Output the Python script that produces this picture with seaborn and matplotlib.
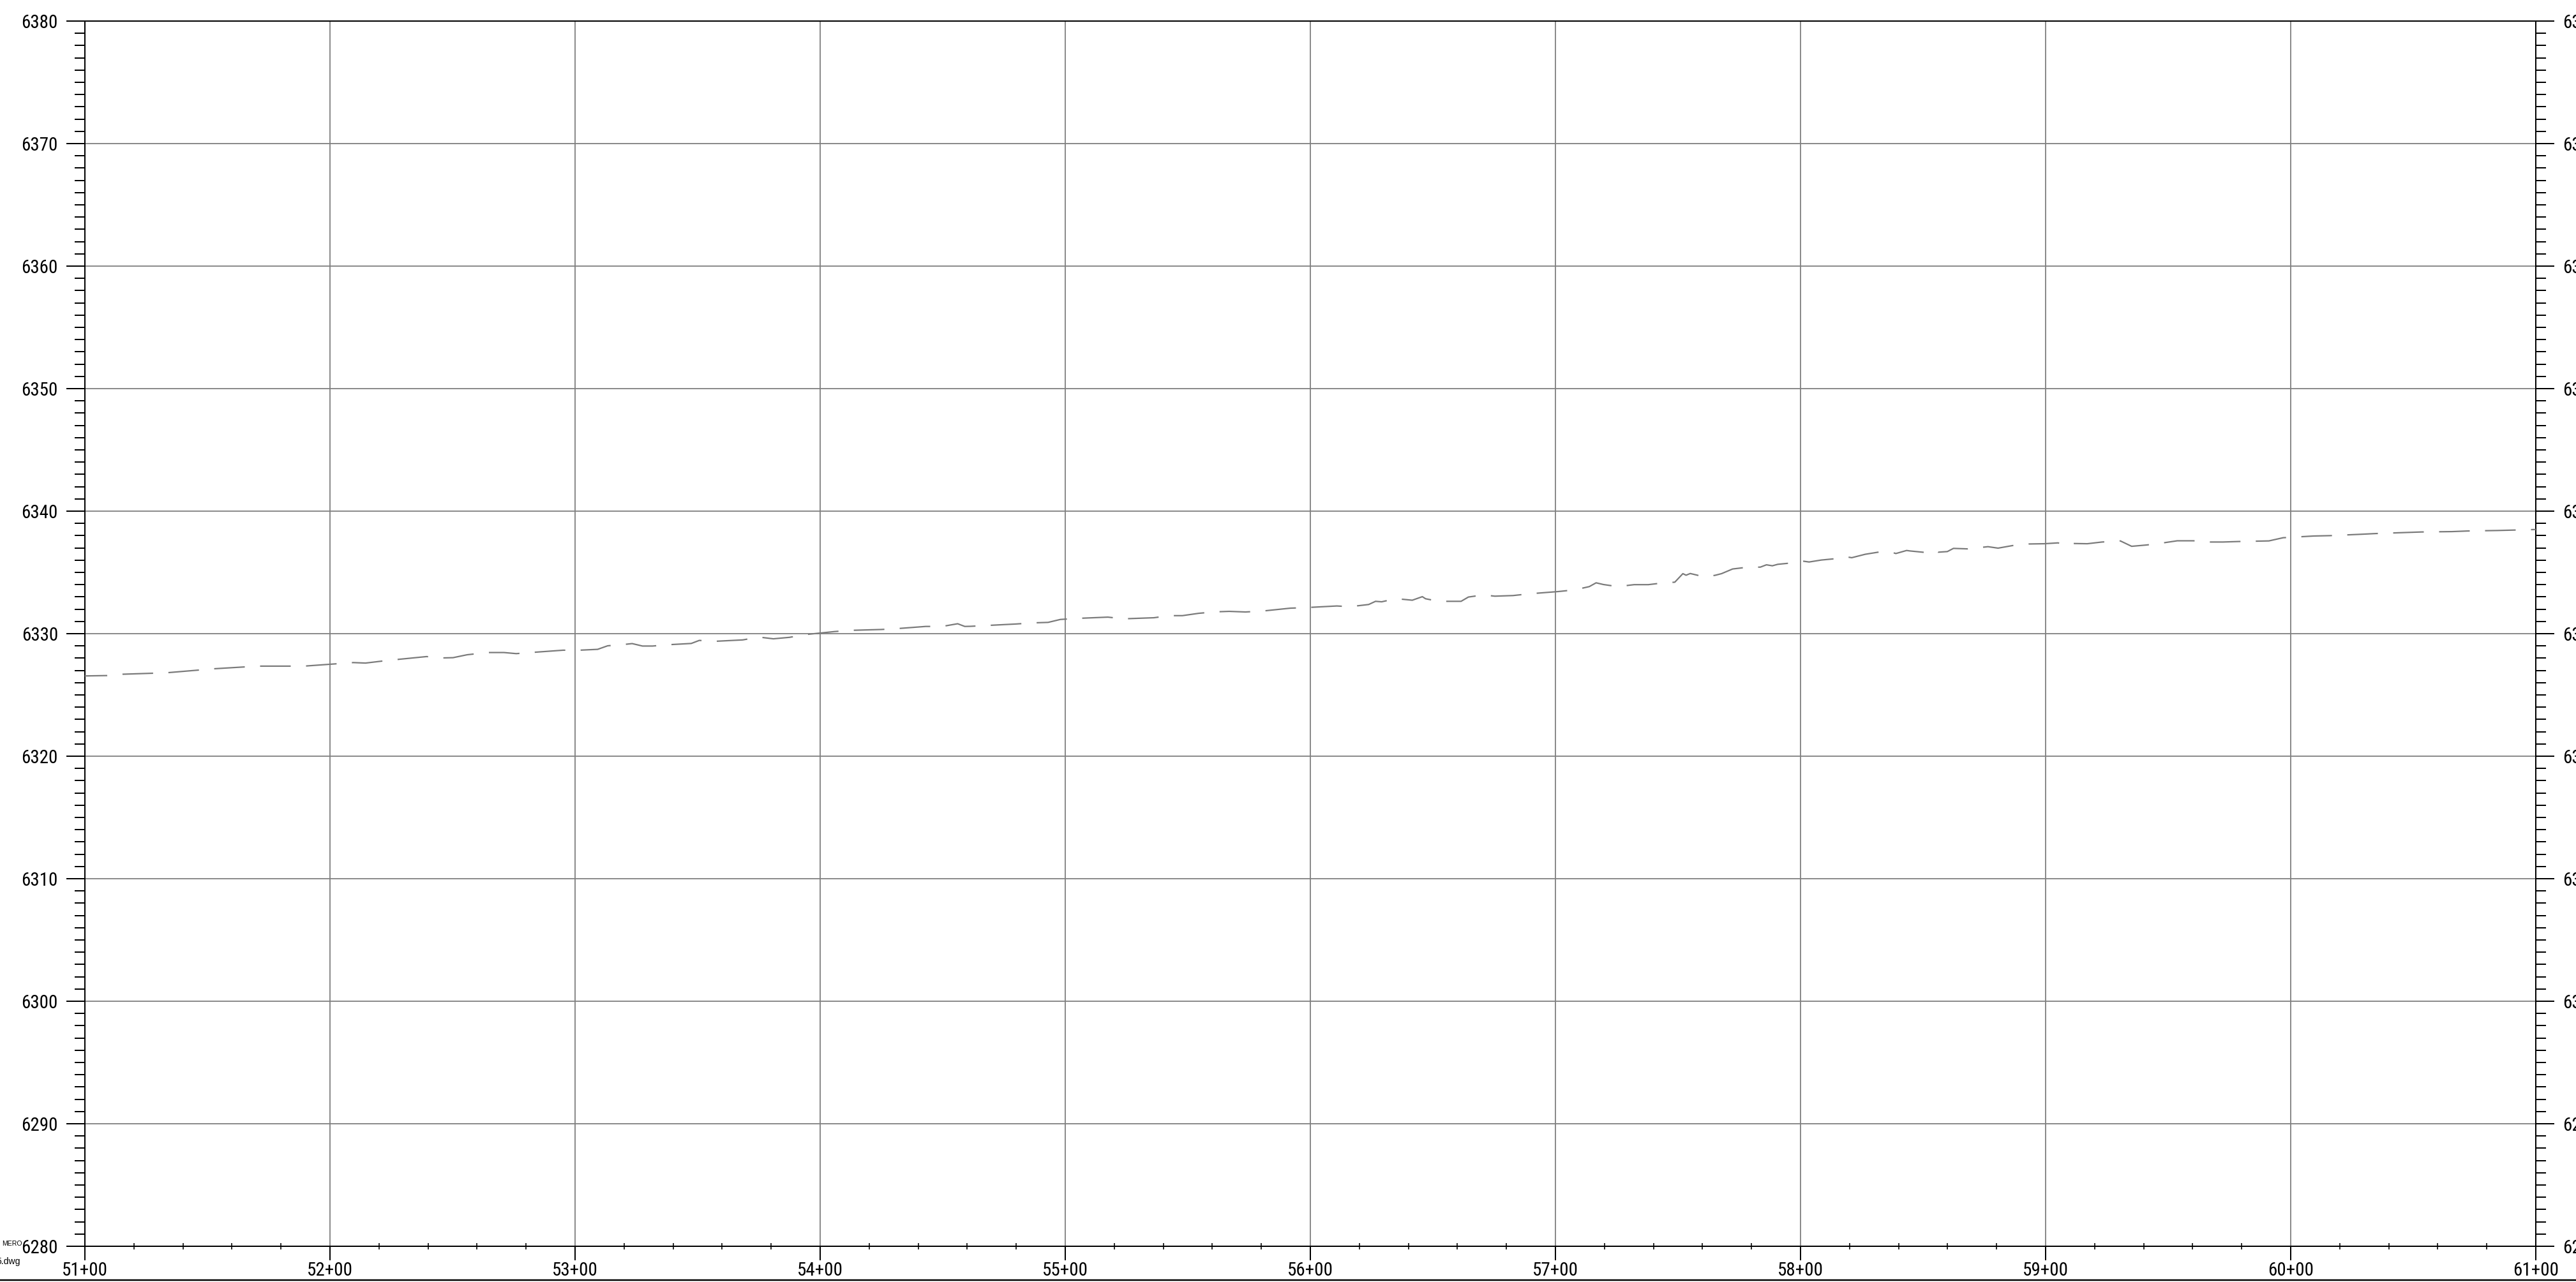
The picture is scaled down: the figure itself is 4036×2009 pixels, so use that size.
import matplotlib
matplotlib.use("Agg")
import matplotlib.pyplot as plt
from matplotlib.ticker import MultipleLocator, FuncFormatter
from matplotlib.lines import Line2D
from matplotlib import font_manager
from matplotlib.font_manager import FontProperties
import pandas as pd
import seaborn as sns

# Existing ground profile: station (ft) and elevation (ft)
station = [
    5100.0, 5109.1, 5115.4, 5127.7, 5134.0, 5146.4, 5153.1, 5164.7, 5171.3, 5183.8,
    5190.1, 5199.9, 5209.5, 5214.5, 5221.2, 5227.8, 5239.4, 5246.1, 5250.2, 5256.0,
    5264.3, 5271.0, 5276.0, 5282.6, 5295.1, 5301.7, 5309.2, 5313.3, 5320.0, 5323.3,
    5327.5, 5331.6, 5338.3, 5347.4, 5350.7,
    5356.5, 5368.4, 5375.1, 5380.9, 5387.5, 5394.2, 5405.8, 5412.4, 5424.9, 5431.2,
    5443.1, 5449.8, 5456.1, 5459.0, 5461.4, 5468.1, 5480.0, 5486.7, 5493.0, 5498.0,
    5505.4, 5517.4, 5523.7, 5536.2, 5542.5, 5547.8, 5554.4, 5561.1, 5566.9, 5573.5,
    5580.2, 5591.8, 5598.4,
    5610.8, 5617.1, 5619.1, 5623.8, 5626.6, 5629.1, 5634.9, 5641.6, 5645.7, 5647.0,
    5652.3, 5661.5, 5664.5, 5670.6, 5675.3, 5682.7, 5689.2, 5701.3, 5708.0, 5713.8,
    5716.6, 5719.6, 5725.4, 5732.1, 5737.9, 5744.2, 5748.7, 5752.0, 5753.3, 5755.0,
    5761.1, 5765.3, 5767.8, 5772.3, 5778.6, 5783.6, 5786.1, 5788.5, 5790.7, 5796.8,
    5801.0, 5803.5, 5808.5, 5814.8, 5818.4, 5820.9, 5826.4, 5832.6, 5836.7, 5838.9,
    5843.3, 5844.7,
    5850.8, 5854.6, 5856.2, 5859.9, 5862.4, 5868.2, 5876.5, 5880.6, 5886.5, 5893.1,
    5899.4, 5905.1, 5908.4, 5911.0, 5917.0, 5923.0, 5930.5, 5935.1, 5941.3, 5946.3,
    5953.7, 5960.4, 5964.5, 5972.3, 5978.6, 5991.1, 5996.9, 6009.4, 6016.0, 6028.5,
    6034.6, 6047.2, 6053.4, 6065.8, 6072.1, 6084.4, 6090.7, 6100.0,
]
elevation = [
    6326.55, 6326.58, 6326.69, 6326.77, 6326.82, 6327.03, 6327.14, 6327.28, 6327.35, 6327.35,
    6327.36, 6327.50, 6327.64, 6327.60, 6327.76, 6327.90, 6328.13, 6328.02, 6328.04, 6328.28,
    6328.46, 6328.46, 6328.37, 6328.47, 6328.65, 6328.65, 6328.72, 6329.01, 6329.12, 6329.19,
    6328.99, 6328.99, 6329.10, 6329.20, 6329.45,
    6329.37, 6329.49, 6329.72, 6329.58, 6329.70, 6329.93, 6330.17, 6330.27, 6330.34, 6330.41,
    6330.59, 6330.59, 6330.81, 6330.59, 6330.60, 6330.67, 6330.79, 6330.88, 6330.92, 6331.16,
    6331.25, 6331.35, 6331.21, 6331.30, 6331.47, 6331.47, 6331.66, 6331.78, 6331.82, 6331.77,
    6331.84, 6332.08, 6332.13,
    6332.26, 6332.19, 6332.27, 6332.38, 6332.64, 6332.60, 6332.86, 6332.73, 6333.02, 6332.85,
    6332.64, 6332.64, 6332.99, 6333.16, 6333.06, 6333.11, 6333.25, 6333.44, 6333.58, 6333.84,
    6334.15, 6334.01, 6333.84, 6334.00, 6334.00, 6334.15, 6334.20, 6334.90, 6334.77, 6334.91,
    6334.62, 6334.77, 6334.90, 6335.28, 6335.43, 6335.43, 6335.62, 6335.54, 6335.66, 6335.78,
    6335.92, 6335.85, 6336.01, 6336.13, 6336.28, 6336.20, 6336.48, 6336.68, 6336.68, 6336.54,
    6336.79, 6336.75,
    6336.63, 6336.84, 6336.65, 6336.70, 6336.96, 6336.92, 6337.10, 6336.98, 6337.19, 6337.32,
    6337.34, 6337.41, 6337.19, 6337.36, 6337.34, 6337.48, 6337.57, 6337.13, 6337.24, 6337.36,
    6337.58, 6337.58, 6337.48, 6337.48, 6337.52, 6337.57, 6337.83, 6337.97, 6338.00, 6338.11,
    6338.17, 6338.26, 6338.30, 6338.33, 6338.38, 6338.42, 6338.45, 6338.50,
]

station_range = (5100, 6100)
elevation_range = (6280, 6380)
sheet_notes = ["MERO", "5.dwg"]

W, H, DPI = 4037, 2009, 100
PX = 72.0 / DPI  # points per pixel

sns.set_theme(style="white")
plt.rcParams["font.family"] = ["Liberation Sans", "DejaVu Sans"]
plt.rcParams["lines.scale_dashes"] = False


def pick_narrow_font():
    """Find a regular-weight narrow/condensed sans face for the drafting labels."""
    prefs = ["Liberation Sans Narrow", "Arial Narrow", "Noto Sans Condensed",
             "Roboto Condensed", "Open Sans Condensed", "DejaVu Sans Condensed",
             "Noto Sans Display Condensed"]
    cands = []
    for f in font_manager.fontManager.ttflist:
        narrow = ("Narrow" in f.name or "Condensed" in f.name
                  or f.stretch in ("condensed", "semi-condensed", 500 - 125, 300, 400))
        if "Narrow" in f.fname or "Condensed" in f.fname:
            narrow = True
        if not narrow:
            continue
        if f.style != "normal":
            continue
        w = f.weight if isinstance(f.weight, int) else {"normal": 400, "regular": 400}.get(f.weight, 700)
        if w != 400:
            continue
        fn = f.fname.split("/")[-1]
        if any(k in fn for k in ("Bold", "Italic", "Light", "Thin", "Black", "Medium", "Semi", "Extra")):
            if "SemiCondensed" not in fn:
                continue
        rank = next((i for i, p in enumerate(prefs) if p.replace(" ", "") in fn.replace("-", "").replace(" ", "")
                     or p == f.name), len(prefs))
        cands.append((rank, fn, f.fname))
    if cands:
        cands.sort()
        return FontProperties(fname=cands[0][2])
    return FontProperties(family=["Liberation Sans", "DejaVu Sans"])


label_font = pick_narrow_font()

fig = plt.figure(figsize=(W / DPI, H / DPI), dpi=DPI, facecolor="white")
ax = fig.add_axes([133 / W, 56 / H, 3840 / W, 1920 / H])
ax.set_facecolor("white")

profile = pd.DataFrame({"station": station, "elevation": elevation})
sns.lineplot(data=profile, x="station", y="elevation", ax=ax, sort=False, estimator=None,
             color="#7a7a7a", linewidth=2.2 * PX,
             linestyle=(13 * PX, (48 * PX, 24 * PX)), zorder=3)

ax.set_xlim(*station_range)
ax.set_ylim(*elevation_range)
ax.set_xlabel("")
ax.set_ylabel("")

ax.xaxis.set_major_locator(MultipleLocator(100))
ax.xaxis.set_minor_locator(MultipleLocator(20))
ax.yaxis.set_major_locator(MultipleLocator(10))
ax.yaxis.set_minor_locator(MultipleLocator(1))
ax.xaxis.set_major_formatter(FuncFormatter(lambda v, p: f"{int(round(v)) // 100}+{int(round(v)) % 100:02d}"))
ax.yaxis.set_major_formatter(FuncFormatter(lambda v, p: f"{int(round(v))}"))

ax.grid(which="major", color="#7f7f7f", linewidth=1.8 * PX, zorder=1)
ax.grid(which="minor", visible=False)
ax.set_axisbelow(True)

for s in ax.spines.values():
    s.set_visible(True)
    s.set_color("black")
    s.set_linewidth(2.0 * PX)

fs = 29 * PX
label_font.set_size(fs)
ax.tick_params(axis="y", which="major", left=True, right=True, labelleft=True, labelright=True,
               direction="out", length=29 * PX, width=2.0 * PX, pad=13 * PX,
               labelsize=fs, colors="black")
ax.tick_params(axis="y", which="minor", left=True, right=True,
               direction="out", length=16 * PX, width=2.0 * PX, colors="black")
ax.tick_params(axis="x", which="major", bottom=True, top=False, direction="out",
               length=22 * PX, width=2.0 * PX, pad=2 * PX, labelsize=fs, colors="black")
ax.tick_params(axis="x", which="minor", bottom=True, top=False, direction="inout",
               length=10 * PX, width=1.6 * PX, colors="black")

for lab in ax.get_xticklabels() + ax.get_yticklabels():
    lab.set_fontproperties(label_font)
for tick in ax.yaxis.get_major_ticks():
    tick.label2.set_fontproperties(label_font)

# sheet border along the bottom edge
fig.add_artist(Line2D([0, 1], [3 / H, 3 / H], transform=fig.transFigure,
                      color="black", linewidth=2.5 * PX))

# file reference notes at the lower-left corner
fig.text(35 / W, (H - 1952) / H, sheet_notes[0], ha="right", va="baseline",
         fontsize=10.5 * PX, color="black")
fig.text(32 / W, (H - 1981) / H, sheet_notes[1], ha="right", va="baseline",
         fontsize=14 * PX, color="black")

fig.savefig("out.png", dpi=DPI, facecolor="white")
